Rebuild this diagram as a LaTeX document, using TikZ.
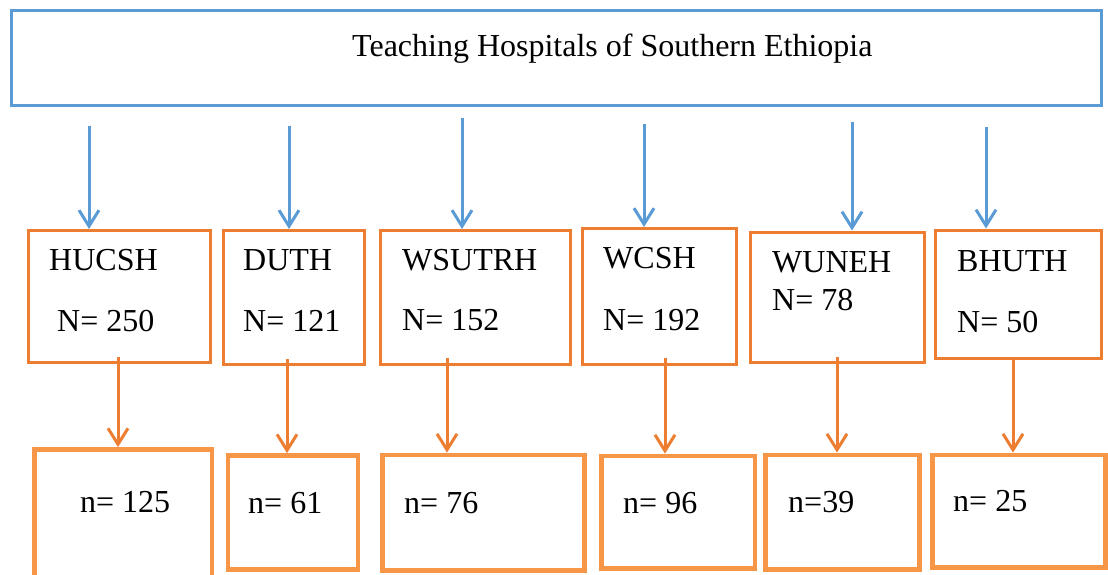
\documentclass[tikz,border=0pt]{standalone}
\usepackage{fontspec}
\setmainfont{Liberation Serif}
\usetikzlibrary{arrows.meta,positioning}
\definecolor{boxblue}{HTML}{5B9BD5}
\definecolor{boxorange}{HTML}{ED7D31}
\definecolor{lightorange}{HTML}{F79646}

\begin{document}
\begin{tikzpicture}[
    x=1pt, y=-1pt,
    font=\fontsize{32}{38}\selectfont,
    topbox/.style={rectangle, draw=boxblue, line width=3pt, inner sep=0pt},
    hospital/.style={rectangle, draw=boxorange, line width=3pt, inner sep=0pt},
    sample/.style={rectangle, draw=lightorange, line width=4.75pt, inner sep=0pt},
    txt/.style={anchor=base west, inner sep=0pt},
    bluearrow/.style={-{Straight Barb[length=16pt,width=20pt]}, draw=boxblue, line width=3pt},
    orangearrow/.style={-{Straight Barb[length=16pt,width=20pt]}, draw=boxorange, line width=3pt}
]
    \useasboundingbox (0,0) rectangle (1108,575);

    % Top box
    \node[topbox, minimum width=1090pt, minimum height=95pt] (top) at (556,58.5) {};
    \node[txt] (title) at (352,57) {Teaching Hospitals of Southern Ethiopia};

    % Hospital boxes
    \node[hospital, minimum width=182pt, minimum height=132pt] (hucsh) at (119.5,296.5) {};
    \node[hospital, minimum width=141.5pt, minimum height=134pt] (duth) at (293.75,297.5) {};
    \node[hospital, minimum width=190.5pt, minimum height=134pt] (wsutrh) at (475.25,297.5) {};
    \node[hospital, minimum width=154pt, minimum height=136pt] (wcsh) at (659,296.5) {};
    \node[hospital, minimum width=174pt, minimum height=130pt] (wuneh) at (837.5,297) {};
    \node[hospital, minimum width=166pt, minimum height=128.5pt] (bhuth) at (1018.5,294.25) {};

    \node[txt] (hucshname) at (49,270) {HUCSH};
    \node[txt] (hucshN) at (57,331) {N= 250};
    \node[txt] (duthname) at (243,270) {DUTH};
    \node[txt] (duthN) at (243,331) {N= 121};
    \node[txt] (wsutrhname) at (402,270) {WSUTRH};
    \node[txt] (wsutrhN) at (402,330) {N= 152};
    \node[txt] (wcshname) at (603,268) {WCSH};
    \node[txt] (wcshN) at (603,330) {N= 192};
    \node[txt] (wunehname) at (772,272) {WUNEH};
    \node[txt] (wunehN) at (772,310) {N= 78};
    \node[txt] (bhuthname) at (957,271) {BHUTH};
    \node[txt] (bhuthN) at (957,332) {N= 50};

    % Sample boxes
    \node[sample, minimum width=177.5pt, minimum height=128.5pt] (hucshsub) at (123.25,513.75) {};
    \node[sample, minimum width=130pt, minimum height=114pt] (duthsub) at (293,512.5) {};
    \node[sample, minimum width=202pt, minimum height=115.5pt] (wsutrhsub) at (483.5,512.75) {};
    \node[sample, minimum width=153.5pt, minimum height=112.5pt] (wcshsub) at (678.25,512.25) {};
    \node[sample, minimum width=154pt, minimum height=114.5pt] (wunehsub) at (842.5,512.25) {};
    \node[sample, minimum width=173pt, minimum height=112.5pt] (bhuthsub) at (1019,511.25) {};

    \node[txt] (hucshn) at (80,512) {n= 125};
    \node[txt] (duthn) at (248,513) {n= 61};
    \node[txt] (wsutrhn) at (404,513) {n= 76};
    \node[txt] (wcshn) at (623,513) {n= 96};
    \node[txt] (wunehn) at (788,512) {n=39};
    \node[txt] (bhuthn) at (953,511) {n= 25};

    % Arrows
    \coordinate (b1) at (89,126);
    \coordinate (b2) at (289,126);
    \coordinate (b3) at (462,118);
    \coordinate (b4) at (644,124);
    \coordinate (b5) at (852,122);
    \coordinate (b6) at (986,127);
    \draw[bluearrow] (b1) -- (b1 |- hucsh.north);
    \draw[bluearrow] (b2) -- (b2 |- duth.north);
    \draw[bluearrow] (b3) -- (b3 |- wsutrh.north);
    \draw[bluearrow] (b4) -- (b4 |- wcsh.north);
    \draw[bluearrow] (b5) -- (b5 |- wuneh.north);
    \draw[bluearrow] (b6) -- (b6 |- bhuth.north);

    \coordinate (o1) at (118,357);
    \coordinate (o2) at (287,359);
    \coordinate (o3) at (447,358);
    \coordinate (o4) at (665,358);
    \coordinate (o5) at (837,357);
    \coordinate (o6) at (1013,357);
    \draw[orangearrow] (o1) -- (o1 |- hucshsub.north);
    \draw[orangearrow] (o2) -- (o2 |- duthsub.north);
    \draw[orangearrow] (o3) -- (o3 |- wsutrhsub.north);
    \draw[orangearrow] (o4) -- (o4 |- wcshsub.north);
    \draw[orangearrow] (o5) -- (o5 |- wunehsub.north);
    \draw[orangearrow] (o6) -- (o6 |- bhuthsub.north);

\end{tikzpicture}
\end{document}
